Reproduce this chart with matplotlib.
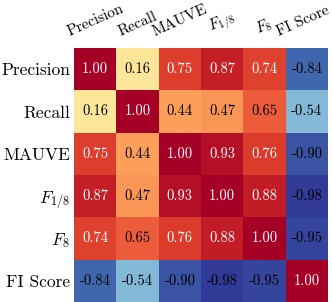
import numpy as np
import matplotlib.pyplot as plt
import matplotlib.transforms as mtransforms

plt.rcParams['font.family'] = 'serif'
plt.rcParams['font.serif'] = ['cmr10']
plt.rcParams['mathtext.fontset'] = 'cm'
plt.rcParams['axes.unicode_minus'] = False

labels = ['Precision', 'Recall', 'MAUVE', '$F_{1/8}$', '$F_8$', 'FI Score']
corr = np.array([
    [1.00, 0.16, 0.75, 0.87, 0.74, -0.84],
    [0.16, 1.00, 0.44, 0.47, 0.65, -0.54],
    [0.75, 0.44, 1.00, 0.93, 0.76, -0.90],
    [0.87, 0.47, 0.93, 1.00, 0.88, -0.98],
    [0.74, 0.65, 0.76, 0.88, 1.00, -0.95],
    [-0.84, -0.54, -0.90, -0.98, -0.95, 1.00],
])

fig = plt.figure(figsize=(3.32, 3.02), dpi=100)
ax = fig.add_axes([74 / 332, 0.0, 254 / 332, 254 / 302])
ax.imshow(corr, cmap='RdYlBu_r', vmin=-1, vmax=1, aspect='auto')

n = len(labels)
for i in range(n):
    for j in range(n):
        v = corr[i, j]
        ax.text(j, i, '%.2f' % v, ha='center', va='center', fontsize=10.5,
                color='white' if v > 0.7 else 'black')

ax.set_xticks(range(n))
ax.set_yticks(range(n))
ax.set_xticklabels(labels, rotation=24, ha='center', fontsize=11)
ax.set_yticklabels(labels, fontsize=12.5)
ax.xaxis.tick_top()
ax.tick_params(axis='x', length=0, pad=7)
ax.tick_params(axis='y', length=0, pad=3)
for s in ax.spines.values():
    s.set_visible(False)

# nudge last top label so it stays inside the figure
last = ax.get_xticklabels()[-1]
last.set_transform(last.get_transform() +
                   mtransforms.ScaledTranslation(-3 / 72, 0, fig.dpi_scale_trans))

fig.savefig('out.png', dpi=100)
